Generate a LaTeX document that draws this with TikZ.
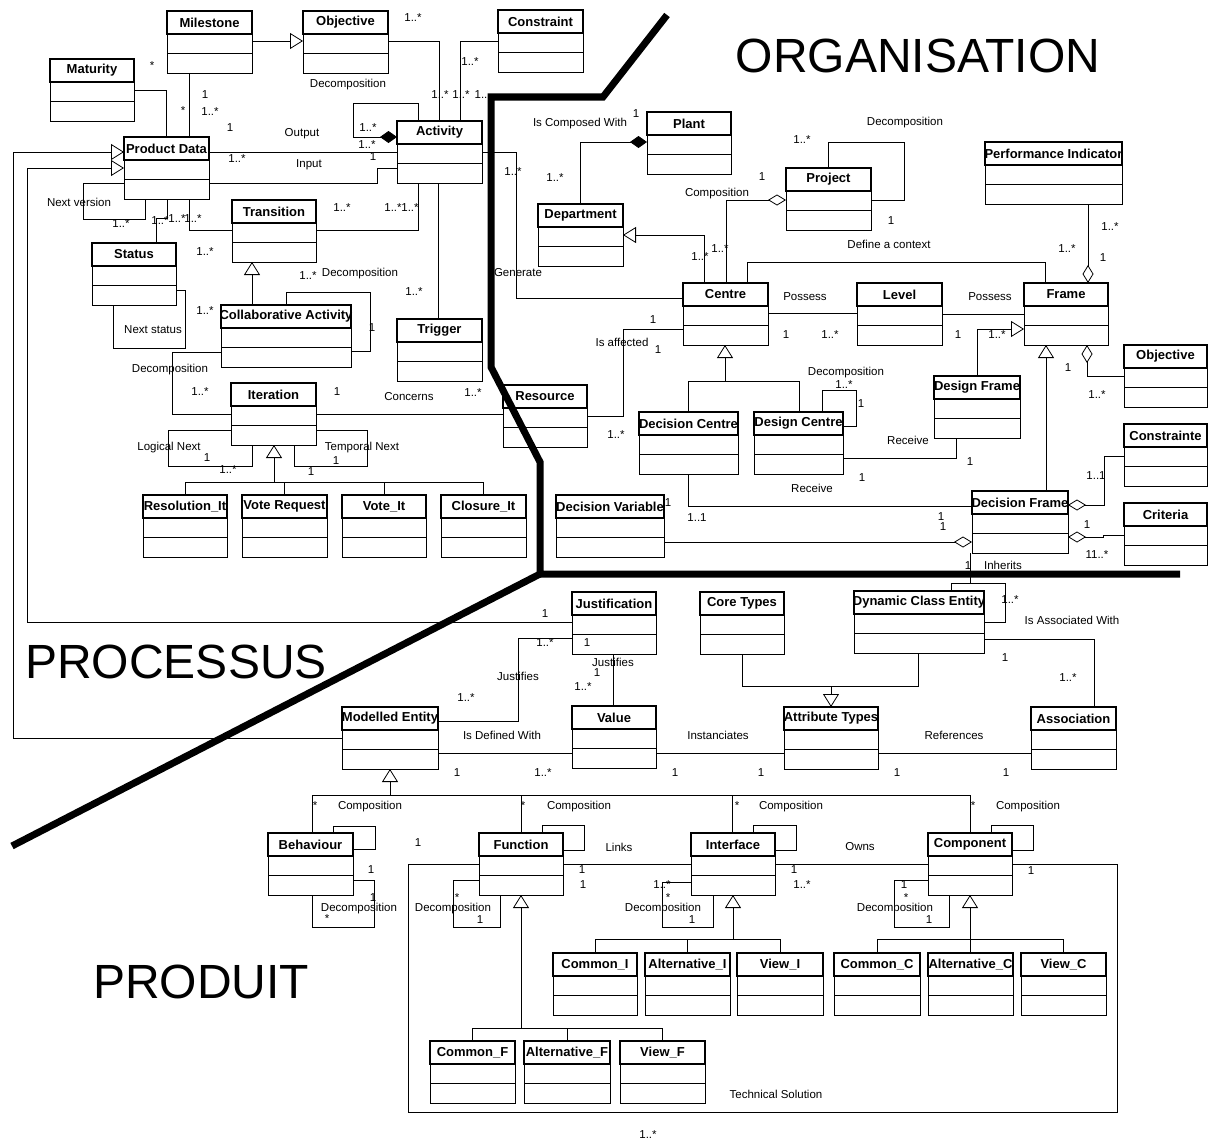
\documentclass[tikz,border=0pt]{standalone}
\usepackage{fontspec}
\setmainfont{Liberation Sans}
\usetikzlibrary{arrows.meta}
\newcounter{lbc}
\tikzset{
  every picture/.style={x=1pt,y=-1pt},
  assoc/.style={draw=black, line width=0.8pt, line join=miter},
  gen/.style={assoc, -{Triangle[open, length=13pt, width=16pt, line width=0.8pt]}},
  agg/.style={assoc, -{Diamond[open, length=18pt, width=11pt, line width=0.8pt]}},
  aggs/.style={assoc, {Diamond[open, length=18pt, width=11pt, line width=0.8pt]}-},
  comps/.style={assoc, {Diamond[fill=black, length=17pt, width=12pt]}-},
  clsbox/.style={draw=black, line width=0.8pt, fill=white, inner sep=0pt, outer sep=0pt, anchor=north west, minimum height=62pt},
  clsname/.style={font=\fontsize{13}{15}\selectfont\bfseries, inner sep=0pt},
  lab/.style={font=\fontsize{11.5}{13}\selectfont, inner sep=0pt},
  big/.style={font=\fontsize{48}{56}\selectfont, inner sep=0pt},
  divider/.style={draw=black, line width=7pt, line join=miter}
}
\newcommand\cls[5]{%
  \node[clsbox, minimum width={(#4-#2)*1pt}] (#1) at (#2,#3) {};
  \draw[line width=2pt] (#1.north west) rectangle ([yshift=-23pt]#1.north east);
  \draw[line width=0.8pt] ([yshift=-42pt]#1.north west) -- ([yshift=-42pt]#1.north east);
  \node[clsname] (#1-t) at ([yshift=-11.5pt]#1.north) {#5};
}
\newcommand\lbl[3]{\stepcounter{lbc}\node[lab] (lb\arabic{lbc}) at (#1,#2) {#3};}
\begin{document}
\begin{tikzpicture}
\useasboundingbox (0,0) rectangle (1208,1140);
\fill[white] (0,0) rectangle (1208,1140);

% ---------- classes ----------
\cls{ms}{167}{11}{252}{Milestone}
\cls{objA}{303}{11}{388}{Objective}
\cls{cons}{498}{10}{583}{Constraint}
\cls{mat}{50}{59}{134}{Maturity}
\cls{pd}{124}{137}{209}{Product Data}
\cls{act}{397}{121}{482}{Activity}
\cls{tr}{232}{200}{316}{Transition}
\cls{st}{92}{243}{176}{Status}
\cls{ca}{221}{305}{351}{Collaborative Activity}
\cls{trig}{397}{319}{482}{Trigger}
\cls{it}{231}{383}{316}{Iteration}
\cls{res}{503}{385}{587}{Resource}
\cls{resit}{143}{495}{227}{Resolution\_It}
\cls{vreq}{242}{495}{327}{Vote Request}
\cls{vit}{342}{495}{426}{Vote\_It}
\cls{clo}{441}{495}{526}{Closure\_It}
\cls{dv}{556}{495}{664}{Decision Variable}
\cls{plant}{647}{112}{731}{Plant}
\cls{dep}{538}{204}{623}{Department}
\cls{proj}{786}{168}{871}{Project}
\cls{pi}{985}{142}{1122}{Performance Indicator}
\cls{cen}{683}{283}{768}{Centre}
\cls{lev}{857}{283}{942}{Level}
\cls{fr}{1024}{283}{1108}{Frame}
\cls{objB}{1124}{345}{1207}{Objective}
\cls{crt}{1124}{424}{1207}{Constrainte}
\cls{cri}{1124}{503}{1207}{Criteria}
\cls{dfr}{934}{376}{1020}{Design Frame}
\cls{dcen}{639}{412}{738}{Decision Centre}
\cls{dsc}{754}{412}{843}{Design Centre}
\cls{dcf}{972}{491}{1068}{Decision Frame}
\cls{jus}{572}{592}{656}{Justification}
\cls{core}{700}{592}{784}{Core Types}
\cls{dce}{854}{591}{984}{Dynamic Class Entity}
\cls{val}{572}{706}{656}{Value}
\cls{me}{342}{707}{438}{Modelled Entity}
\cls{at}{784}{707}{878}{Attribute Types}
\cls{asc}{1031}{707}{1116}{Association}
\cls{beh}{268}{833}{353}{Behaviour}
\cls{fun}{479}{833}{563}{Function}
\cls{intf}{691}{833}{775}{Interface}
\cls{comp}{928}{833}{1012}{Component}
\cls{ci}{553}{953}{637}{Common\_I}
\cls{ai}{645}{953}{730}{Alternative\_I}
\cls{vi}{737}{953}{823}{View\_I}
\cls{cc}{834}{953}{920}{Common\_C}
\cls{ac}{928}{953}{1013}{Alternative\_C}
\cls{vc}{1021}{953}{1106}{View\_C}
\cls{cf}{430}{1041}{515}{Common\_F}
\cls{af}{524}{1041}{610}{Alternative\_F}
\cls{vf}{620}{1041}{705}{View\_F}

% ---------- connectors : processus ----------
\draw[gen] (ms.east |- 0,41) -- (objA.west |- 0,41);
\draw[assoc] (ms.south -| 189,0) -- (pd.north -| 189,0);
\draw[assoc] (mat.east |- 0,90) -| (pd.north -| 166,0);
\draw[assoc] (pd.east |- 0,152) -- (act.west |- 0,152);
\draw[assoc] (pd.east |- 0,183) -- (377,183) -- (377,168) -- (act.west |- 0,168);
\draw[comps] (act.west |- 0,137) -- (353,137) -- (353,103) -- (418,103) -- (act.north -| 418,0);
\draw[assoc] (objA.east |- 0,41) -| (act.north -| 439,0);
\draw[assoc] (cons.west |- 0,41) -| (act.north -| 460,0);
\draw[assoc] (act.east |- 0,152) -- (516,152) -- (516,298) -- (cen.west |- 0,298);
\draw[assoc] (pd.west |- 0,183) -- (83,183) -- (83,219) -- (145,219) -- (pd.south -| 145,0);
\draw[assoc] (pd.south -| 167,0) -- (167,218) -- (156,218) -- (st.north -| 156,0);
\draw[assoc] (pd.south -| 189,0) -- (189,230) -- (tr.west |- 0,230);
\draw[assoc] (tr.east |- 0,230) -- (418,230) -- (act.south -| 418,0);
\draw[assoc] (st.east |- 0,290) -- (185,290) -- (185,348) -- (113,348) -- (st.south -| 113,0);
\draw[gen] (ca.north -| 252,0) -- (tr.south -| 252,0);
\draw[assoc] (ca.north -| 286,0) -- (286,292) -- (370,292) -- (370,351) -- (ca.east |- 0,351);
\draw[assoc] (ca.west |- 0,352) -- (172,352) -- (172,414) -- (it.west |- 0,414);
\draw[assoc] (it.east |- 0,414) -- (res.west |- 0,414);
\draw[assoc] (trig.north -| 438,0) -- (act.south -| 438,0);
\draw[assoc] (it.west |- 0,430) -- (168,430) -- (168,466) -- (252,466) -- (it.south -| 252,0);
\draw[assoc] (it.east |- 0,430) -- (367,430) -- (367,466) -- (294,466) -- (it.south -| 294,0);
\draw[gen] (274,482) -- (it.south -| 274,0);
\draw[assoc] (resit.north) -- (resit.north |- 0,482) -- (clo.north |- 0,482) -- (clo.north);
\draw[assoc] (vreq.north) -- (vreq.north |- 0,482);
\draw[assoc] (vit.north) -- (vit.north |- 0,482);
% generalisations into Product Data
\draw[gen] (me.west |- 0,738) -- (13,738) -- (13,152) -- (pd.west |- 0,152);
\draw[gen] (jus.west |- 0,622) -- (27,622) -- (27,168) -- (pd.west |- 0,168);

% ---------- connectors : organisation ----------
\draw[comps] (plant.west |- 0,142) -| (dep.north -| 580,0);
\draw[gen] (cen.north -| 704,0) |- (dep.east |- 0,235);
\draw[agg] (cen.north -| 726,0) |- (proj.west |- 0,200);
\draw[assoc] (proj.north -| 828,0) -- (828,142) -- (904,142) -- (904,200) -- (proj.east |- 0,200);
\draw[assoc] (cen.north -| 747,0) -- (747,262) -- (1045,262) -- (fr.north -| 1045,0);
\draw[agg] (pi.south -| 1088,0) -- (fr.north -| 1088,0);
\draw[assoc] (cen.east |- 0,313) -- (lev.west |- 0,313);
\draw[assoc] (lev.east |- 0,314) -- (fr.west |- 0,314);
\draw[gen] (dfr.north -| 977,0) |- (fr.west |- 0,329);
\draw[gen] (dcf.north -| 1046,0) -- (fr.south -| 1046,0);
\draw[aggs] (fr.south -| 1087,0) |- (objB.west |- 0,376);
\draw[aggs] (dcf.east |- 0,505) -- (1104,505) |- (crt.west |- 0,456);
\draw[aggs] (dcf.east |- 0,537) -- (1103,537) -- (1103,535) -- (cri.west |- 0,535);
\draw[assoc] (cen.west |- 0,329) -- (623,329) -- (623,416) -- (res.east |- 0,416);
\draw[gen] (725,381) -- (cen.south -| 725,0);
\draw[assoc] (dcen.north -| 688,0) -- (688,381) -- (799,381) -- (dsc.north -| 799,0);
\draw[assoc] (dsc.north -| 822,0) -- (822,390) -- (856,390) -- (856,426) -- (dsc.east |- 0,426);
\draw[assoc] (dsc.east |- 0,458) -- (956,458) -- (dfr.south -| 956,0);
\draw[assoc] (dcen.south -| 688,0) |- (dcf.west |- 0,506);
\draw[agg] (dv.east |- 0,542) -- (dcf.west |- 0,542);
\draw[assoc] (dcf.south -| 970,0) -- (970,583);

% ---------- connectors : produit ----------
\draw[assoc] (dce.north -| 951,0) -- (951,583) -- (1005,583) -- (1005,622) -- (dce.east |- 0,622);
\draw[assoc] (jus.west |- 0,638) -- (518,638) -- (518,721) -- (me.east |- 0,721);
\draw[assoc] (jus.south -| 613,0) -- (val.north -| 613,0);
\draw[assoc] (me.east |- 0,753) -- (val.west |- 0,753);
\draw[assoc] (val.east |- 0,753) -- (at.west |- 0,753);
\draw[assoc] (at.east |- 0,753) -- (asc.west |- 0,753);
\draw[assoc] (core.south -| 742,0) -- (742,686) -- (918,686) -- (dce.south -| 918,0);
\draw[gen] (831,686) -- (at.north -| 831,0);
\draw[assoc] (dce.east |- 0,639) -| (asc.north -| 1094,0);
\draw[gen] (390,795) -- (me.south -| 390,0);
\draw[assoc] (beh.north -| 312,0) -- (312,795) -- (970,795) -- (comp.north -| 970,0);
\draw[assoc] (fun.north -| 521,0) -- (521,795);
\draw[assoc] (intf.north -| 732,0) -- (732,795);
\draw[assoc] (beh.north -| 333,0) -- (333,826) -- (375,826) -- (375,849) -- (beh.east |- 0,849);
\draw[assoc] (fun.north -| 542,0) -- (542,825) -- (584,825) -- (584,850) -- (fun.east |- 0,850);
\draw[assoc] (intf.north -| 753,0) -- (753,825) -- (796,825) -- (796,850) -- (intf.east |- 0,850);
\draw[assoc] (comp.north -| 991,0) -- (991,825) -- (1033,825) -- (1033,850) -- (comp.east |- 0,850);
\draw[assoc] (beh.east |- 0,880) -- (374,880) -- (374,927) -- (312,927) -- (beh.south -| 312,0);
\draw[assoc] (fun.west |- 0,880) -- (453,880) -- (453,927) -- (500,927) -- (fun.south -| 500,0);
\draw[assoc] (intf.west |- 0,882) -- (662,882) -- (662,927) -- (713,927) -- (intf.south -| 713,0);
\draw[assoc] (comp.west |- 0,880) -- (894,880) -- (894,927) -- (949,927) -- (comp.south -| 949,0);
\draw[gen] (521,1028) -- (fun.south -| 521,0);
\draw[assoc] (cf.north) -- (cf.north |- 0,1028) -- (vf.north |- 0,1028) -- (vf.north);
\draw[assoc] (af.north) -- (af.north |- 0,1028);
\draw[gen] (733,939) -- (intf.south -| 733,0);
\draw[assoc] (ci.north) -- (ci.north |- 0,939) -- (vi.north |- 0,939) -- (vi.north);
\draw[assoc] (ai.north) -- (ai.north |- 0,939);
\draw[gen] (970,939) -- (comp.south -| 970,0);
\draw[assoc] (cc.north) -- (cc.north |- 0,939) -- (vc.north |- 0,939) -- (vc.north);
\draw[assoc] (ac.north) -- (ac.north |- 0,939);
\draw[assoc] (fun.east |- 0,864) -- (intf.west |- 0,864);
\draw[assoc] (intf.east |- 0,864) -- (comp.west |- 0,864);
\draw[assoc] (comp.east |- 0,864) -- (1117,864) -- (1117,1112) -- (408,1112) -- (408,864) -- (fun.west |- 0,864);

% ---------- dividers ----------
\draw[divider] (667,15) -- (603,97) -- (491,97) -- (491,367) -- (540,462) -- (540,574) -- (1180,574);
\draw[divider] (540,574) -- (12,846);

% ---------- zone titles ----------
\node[big] (tOrg) at (918,56) {ORGANISATION};
\node[big] (tPro) at (176,662) {PROCESSUS};
\node[big] (tPrd) at (201,982) {PRODUIT};

% ---------- labels : processus ----------
\lbl{413}{18}{1..*}
\lbl{152}{66}{*}
\lbl{205}{95}{1}
\lbl{210}{112}{1..*}
\lbl{183}{111}{*}
\lbl{230}{128}{1}
\lbl{302}{134}{Output}
\lbl{309}{165}{Input}
\lbl{237}{159}{1..*}
\lbl{373}{157}{1}
\lbl{368}{128}{1..*}
\lbl{367}{145}{1..*}
\lbl{348}{85}{Decomposition}
\lbl{470}{62}{1..*}
\lbl{440}{95}{1..*}
\lbl{461}{95}{1..*}
\lbl{481}{95}{1..}
\lbl{513}{172}{1..*}
\lbl{518}{273}{Generate}
\lbl{79}{202}{Next version}
\lbl{121}{224}{1..*}
\lbl{160}{221}{1..*}
\lbl{177}{219}{1..*}
\lbl{193}{219}{1..*}
\lbl{205}{252}{1..*}
\lbl{342}{208}{1..*}
\lbl{393}{208}{1..*}
\lbl{410}{208}{1..*}
\lbl{153}{330}{Next status}
\lbl{308}{276}{1..*}
\lbl{360}{274}{Decomposition}
\lbl{372}{328}{1}
\lbl{205}{311}{1..*}
\lbl{170}{370}{Decomposition}
\lbl{200}{392}{1..*}
\lbl{337}{392}{1}
\lbl{409}{397}{Concerns}
\lbl{473}{393}{1..*}
\lbl{414}{292}{1..*}
\lbl{169}{448}{Logical Next}
\lbl{207}{458}{1}
\lbl{228}{470}{1..*}
\lbl{362}{448}{Temporal Next}
\lbl{336}{461}{1}
\lbl{311}{472}{1}

% ---------- labels : organisation ----------
\lbl{580}{124}{Is Composed With}
\lbl{636}{114}{1}
\lbl{555}{178}{1..*}
\lbl{700}{257}{1..*}
\lbl{720}{249}{1..*}
\lbl{717}{194}{Composition}
\lbl{762}{177}{1}
\lbl{905}{123}{Decomposition}
\lbl{802}{140}{1..*}
\lbl{891}{221}{1}
\lbl{889}{244}{Define a context}
\lbl{1110}{227}{1..*}
\lbl{1067}{249}{1..*}
\lbl{1103}{258}{1}
\lbl{805}{297}{Possess}
\lbl{990}{297}{Possess}
\lbl{786}{335}{1}
\lbl{830}{335}{1..*}
\lbl{958}{335}{1}
\lbl{997}{335}{1..*}
\lbl{1068}{368}{1}
\lbl{1097}{395}{1..*}
\lbl{653}{320}{1}
\lbl{622}{342}{Is affected}
\lbl{658}{350}{1}
\lbl{616}{435}{1..*}
\lbl{846}{373}{Decomposition}
\lbl{844}{385}{1..*}
\lbl{861}{404}{1}
\lbl{908}{440}{Receive}
\lbl{970}{462}{1}
\lbl{812}{488}{Receive}
\lbl{862}{478}{1}
\lbl{668}{503}{1}
\lbl{697}{518}{1..1}
\lbl{941}{517}{1}
\lbl{943}{527}{1}
\lbl{1096}{476}{1..1}
\lbl{1087}{525}{1}
\lbl{1097}{555}{11..*}
\lbl{968}{566}{1}
\lbl{1003}{565}{Inherits}

% ---------- labels : produit ----------
\lbl{1010}{600}{1..*}
\lbl{1072}{620}{Is Associated With}
\lbl{545}{614}{1}
\lbl{545}{643}{1..*}
\lbl{587}{643}{1}
\lbl{518}{676}{Justifies}
\lbl{466}{698}{1..*}
\lbl{613}{662}{Justifies}
\lbl{597}{673}{1}
\lbl{583}{687}{1..*}
\lbl{502}{735}{Is Defined With}
\lbl{457}{773}{1}
\lbl{543}{773}{1..*}
\lbl{718}{735}{Instanciates}
\lbl{675}{773}{1}
\lbl{761}{773}{1}
\lbl{954}{735}{References}
\lbl{897}{773}{1}
\lbl{1006}{773}{1}
\lbl{1005}{658}{1}
\lbl{1068}{678}{1..*}
\lbl{315}{806}{*}
\lbl{370}{807}{Composition}
\lbl{523}{806}{*}
\lbl{579}{807}{Composition}
\lbl{737}{806}{*}
\lbl{791}{807}{Composition}
\lbl{973}{806}{*}
\lbl{1028}{807}{Composition}
\lbl{418}{843}{1}
\lbl{619}{847}{Links}
\lbl{582}{870}{1}
\lbl{583}{885}{1}
\lbl{860}{847}{Owns}
\lbl{794}{870}{1}
\lbl{802}{885}{1..*}
\lbl{1031}{871}{1}
\lbl{371}{870}{1}
\lbl{373}{898}{1}
\lbl{359}{909}{Decomposition}
\lbl{327}{919}{*}
\lbl{457}{898}{*}
\lbl{453}{909}{Decomposition}
\lbl{480}{920}{1}
\lbl{662}{885}{1..*}
\lbl{668}{898}{*}
\lbl{663}{909}{Decomposition}
\lbl{692}{920}{1}
\lbl{904}{885}{1}
\lbl{906}{898}{*}
\lbl{895}{909}{Decomposition}
\lbl{929}{920}{1}
\lbl{776}{1094}{Technical Solution}
\lbl{648}{1135}{1..*}
\end{tikzpicture}
\end{document}
